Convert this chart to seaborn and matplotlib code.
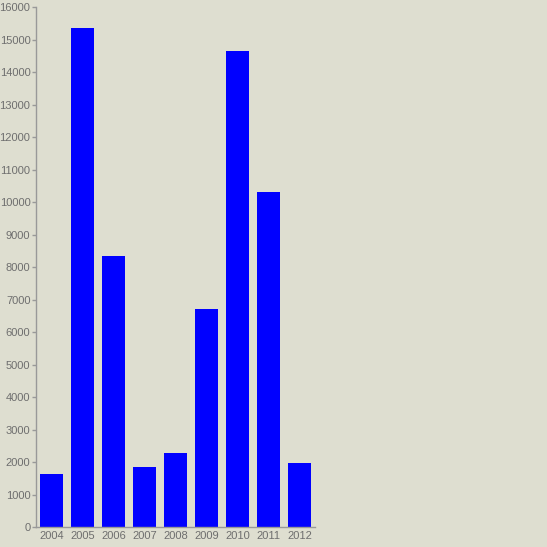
import matplotlib
matplotlib.use("Agg")
import matplotlib.pyplot as plt
import pandas as pd
import seaborn as sns

# values
years = ["2004", "2005", "2006", "2007", "2008", "2009", "2010", "2011", "2012"]
counts = [1630, 15355, 8340, 1855, 2275, 6710, 14655, 10310, 1970]
y_ticks = list(range(0, 16001, 1000))

BG = "#DEDED0"
AXIS = "#999999"
TEXT = "#6E6E6E"

sns.set_style("white")
plt.rcParams["font.family"] = ["Liberation Sans", "DejaVu Sans"]

df = pd.DataFrame({"year": years, "count": counts})

fig = plt.figure(figsize=(5.47, 5.47), dpi=100, facecolor=BG)
ax = fig.add_axes([36 / 547, (547 - 527.3) / 547, 279 / 547, 520 / 547])
ax.set_facecolor(BG)

sns.barplot(data=df, x="year", y="count", color="#0000FF", saturation=1,
            width=0.75, edgecolor="none", ax=ax)

ax.set_xlim(-0.5, len(years) - 0.5)
ax.set_ylim(0, 16000)
ax.set_yticks(y_ticks)
ax.set_xlabel("")
ax.set_ylabel("")

for side in ["top", "right"]:
    ax.spines[side].set_visible(False)
for side in ["left", "bottom"]:
    ax.spines[side].set_color(AXIS)
    ax.spines[side].set_linewidth(1)

ax.tick_params(axis="y", length=3, width=1, color=AXIS, labelcolor=TEXT,
               labelsize=8, pad=1, left=True)
ax.tick_params(axis="x", length=0, labelcolor=TEXT, labelsize=8, pad=3)

fig.savefig("out.png", dpi=100, facecolor=BG)
